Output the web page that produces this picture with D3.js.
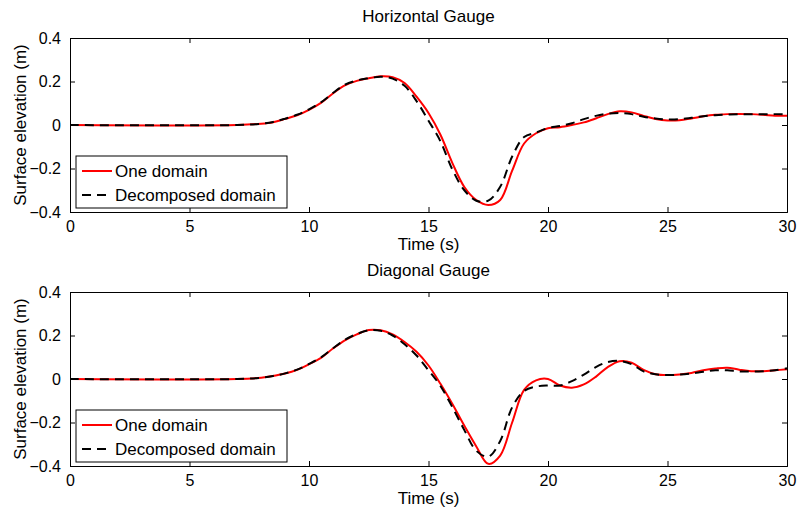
<!DOCTYPE html>
<html>
<head>
<meta charset="utf-8">
<script src="https://cdn.jsdelivr.net/npm/d3@7"></script>
<style>
  body { margin: 0; background: #fff; }
  svg { display: block; font-family: "Liberation Sans", Arial, Helvetica, sans-serif; }
</style>
</head>
<body>
<svg id="chart" width="799" height="518"></svg>
<script>
// sample times shared by all series (s)
const times = [0, 7, 8, 8.5, 9, 9.5, 10, 10.5, 11, 11.5, 12, 12.5, 13, 13.5, 14, 14.5, 15, 15.5,
  16, 16.5, 17, 17.5, 18, 18.5, 19, 19.5, 20, 20.5, 21, 21.5, 22, 22.5, 23, 23.5, 24, 24.5,
  25, 25.5, 26, 26.5, 27, 27.5, 28, 28.5, 29, 29.5, 30];

// Horizontal gauge
const horizOne = [0, 0, 0.006, 0.013, 0.028, 0.045, 0.07, 0.102, 0.145, 0.182, 0.203, 0.215, 0.224, 0.22,
  0.193, 0.13, 0.055, -0.045, -0.175, -0.285, -0.345, -0.368, -0.345, -0.21, -0.085, -0.038,
  -0.015, -0.01, 0, 0.012, 0.03, 0.05, 0.063, 0.058, 0.042, 0.028, 0.021, 0.022, 0.03, 0.04,
  0.047, 0.05, 0.051, 0.05, 0.047, 0.043, 0.042];
const horizDec = [0, 0, 0.006, 0.014, 0.029, 0.047, 0.072, 0.104, 0.147, 0.185, 0.205, 0.215, 0.222, 0.213,
  0.18, 0.11, 0.02, -0.075, -0.205, -0.3, -0.348, -0.348, -0.284, -0.145, -0.055, -0.035,
  -0.014, -0.005, 0.008, 0.027, 0.042, 0.052, 0.055, 0.05, 0.038, 0.03, 0.026, 0.027, 0.033, 0.04,
  0.045, 0.048, 0.05, 0.049, 0.049, 0.05, 0.049];

// Diagonal gauge
const diagOne = [0, 0, 0.006, 0.014, 0.025, 0.042, 0.068, 0.097, 0.14, 0.178, 0.205, 0.225, 0.224, 0.205,
  0.17, 0.125, 0.062, -0.022, -0.115, -0.215, -0.31, -0.39, -0.352, -0.2, -0.05, -0.006,
  0.0, -0.03, -0.04, -0.025, 0.01, 0.055, 0.082, 0.075, 0.042, 0.022, 0.018, 0.021, 0.028, 0.04,
  0.048, 0.052, 0.043, 0.036, 0.036, 0.04, 0.045];
const diagDec = [0, 0, 0.006, 0.014, 0.026, 0.043, 0.069, 0.099, 0.141, 0.18, 0.207, 0.224, 0.222, 0.2,
  0.16, 0.108, 0.04, -0.032, -0.13, -0.235, -0.33, -0.357, -0.285, -0.13, -0.055, -0.035,
  -0.03, -0.03, -0.01, 0.02, 0.055, 0.078, 0.083, 0.068, 0.035, 0.022, 0.018, 0.02, 0.025, 0.033,
  0.04, 0.04, 0.035, 0.034, 0.036, 0.04, 0.049];

const xTicks = [0, 5, 10, 15, 20, 25, 30];
const yTicks = [-0.4, -0.2, 0, 0.2, 0.4];
const seriesNames = ["One domain", "Decomposed domain"];

const svg = d3.select("#chart");

const panels = [
  {title: "Horizontal Gauge", top: 38, one: horizOne, dec: horizDec},
  {title: "Diagonal Gauge", top: 292, one: diagOne, dec: diagDec}
];

const left = 70, right = 787, plotH = 174;

const x = d3.scaleLinear().domain([0, 30]).range([left, right]);

panels.forEach(p => {
    const y = d3.scaleLinear().domain([-0.4, 0.4]).range([p.top + plotH, p.top]);
    const g = svg.append("g");

    // curves
    const line = d3.line()
        .x((d, i) => x(times[i]))
        .y(d => y(d))
        .curve(d3.curveCatmullRom.alpha(0.5));

    g.append("path")
        .attr("d", line(p.one))
        .attr("fill", "none")
        .attr("stroke", "#ff0000")
        .attr("stroke-width", 2);

    g.append("path")
        .attr("d", line(p.dec))
        .attr("fill", "none")
        .attr("stroke", "#000")
        .attr("stroke-width", 2)
        .attr("stroke-dasharray", "9,6");

    // axes, matlab style: inward ticks on all four sides
    const fmt = d => d3.format("")(d);
    g.append("g")
        .attr("transform", `translate(0,${p.top + plotH})`)
        .call(d3.axisBottom(x).tickValues(xTicks).tickSize(-5).tickPadding(9).tickFormat(fmt));
    g.append("g")
        .attr("transform", `translate(0,${p.top})`)
        .call(d3.axisTop(x).tickValues(xTicks).tickSize(-5).tickFormat(""));
    g.append("g")
        .attr("transform", `translate(${left},0)`)
        .call(d3.axisLeft(y).tickValues(yTicks).tickSize(-5).tickPadding(9).tickFormat(fmt));
    g.append("g")
        .attr("transform", `translate(${right},0)`)
        .call(d3.axisRight(y).tickValues(yTicks).tickSize(-5).tickFormat(""));

    g.selectAll(".domain").attr("stroke", "#000").attr("stroke-width", 1);
    g.selectAll(".tick line").attr("stroke", "#000");
    g.selectAll(".tick text")
        .attr("fill", "#000")
        .style("font-size", "16px")
        .style("font-family", "'Liberation Sans', Arial, sans-serif");

    // title
    g.append("text")
        .attr("x", (left + right) / 2)
        .attr("y", p.top - 16)
        .attr("text-anchor", "middle")
        .style("font-size", "17px")
        .text(p.title);

    // x label
    g.append("text")
        .attr("x", (left + right) / 2)
        .attr("y", p.top + plotH + 38)
        .attr("text-anchor", "middle")
        .style("font-size", "17px")
        .text("Time (s)");

    // y label
    g.append("text")
        .attr("transform", `translate(26,${p.top + plotH / 2}) rotate(-90)`)
        .attr("text-anchor", "middle")
        .style("font-size", "17px")
        .text("Surface elevation (m)");

    // legend
    const lg = g.append("g").attr("transform", `translate(76,${p.top + plotH - 56})`);
    lg.append("rect")
        .attr("width", 211).attr("height", 52)
        .attr("fill", "#fff").attr("stroke", "#000").attr("stroke-width", 1);
    seriesNames.forEach((name, i) => {
        const yy = 15 + i * 24;
        lg.append("line")
            .attr("x1", 6).attr("x2", 36).attr("y1", yy).attr("y2", yy)
            .attr("stroke", i === 0 ? "#ff0000" : "#000")
            .attr("stroke-width", 2)
            .attr("stroke-dasharray", i === 0 ? null : "9,6");
        lg.append("text")
            .attr("x", 39).attr("y", yy + 6)
            .style("font-size", "17px")
            .text(name);
    });
});
</script>
</body>
</html>
